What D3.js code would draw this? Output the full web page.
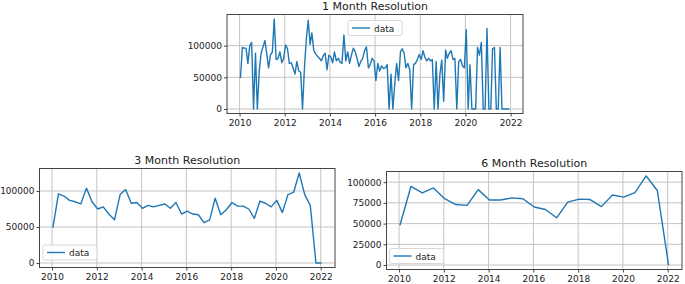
<!DOCTYPE html>
<html>
<head>
<meta charset="utf-8">
<script src="https://cdn.jsdelivr.net/npm/d3@7"></script>
<style>
  body { margin: 0; background: #fff; }
  text { font-family: "DejaVu Sans", sans-serif; }
</style>
</head>
<body>
<div id="wrapper"></div>
<script>
// values, one per period starting Jan 2010
const monthlyValues = [
    49000, 97000, 96000, 96000, 72000, 100000, 105000, 0, 88000, 0, 60000, 88000,
    98000, 108000, 88000, 65000, 85000, 90000, 142000, 78000, 80000, 90000, 73000, 80000,
    101000, 95000, 72000, 73000, 65000, 55000, 75000, 60000, 58000, 0, 65000, 110000,
    140000, 102000, 120000, 92000, 87000, 83000, 80000, 76000, 84000, 88000, 62000, 85000,
    82000, 73000, 90000, 76000, 80000, 74000, 72000, 117000, 76000, 90000, 72000, 85000,
    96000, 90000, 80000, 67000, 75000, 80000, 92000, 98000, 65000, 70000, 80000, 76000,
    45000, 72000, 60000, 68000, 64000, 65000, 70000, 0, 55000, 0, 40000, 72000,
    45000, 90000, 95000, 88000, 65000, 72000, 62000, 0, 70000, 72000, 78000, 86000,
    78000, 92000, 82000, 76000, 80000, 76000, 78000, 0, 75000, 0, 55000, 77000,
    12000, 93000, 80000, 88000, 92000, 78000, 80000, 0, 75000, 78000, 68000, 65000,
    125000, 0, 70000, 0, 0, 0, 97000, 85000, 105000, 0, 0, 127000,
    0, 0, 95000, 97000, 0, 0, 97000, 0, 0, 0, 0, 0
];
const quarterlyValues = [
    49000, 96000, 93000, 87000, 85000, 82000, 104000, 85000, 75000, 78000, 68000, 60000,
    95000, 102000, 83000, 84000, 76000, 80000, 78000, 80000, 82000, 76000, 84000, 68000,
    72000, 68000, 67000, 56000, 60000, 90000, 67000, 74000, 84000, 79000, 79000, 75000,
    62000, 86000, 83000, 78000, 87000, 70000, 95000, 98000, 125000, 95000, 80000, 0, 0
];
const halfYearValues = [
    48000, 95000, 87000, 93000, 80000, 73000, 72000, 91000, 78500, 78500, 81000, 80000,
    70000, 67000, 57000, 76000, 79500, 79000, 70500, 84500, 82000, 87500, 107500, 90000, 0
];
const xTickYears = [2010, 2012, 2014, 2016, 2018, 2020, 2022];
const yTicksSmall = [0, 50000, 100000];
const yTicksFine = [0, 25000, 50000, 75000, 100000];

const startDate = new Date(2010, 0, 15);

const svg = d3.select("#wrapper")
    .append("svg")
    .attr("width", 685)
    .attr("height", 284);

function drawPanel(opts) {
    // turn the value list into dated points
    const dataset = opts.values.map((v, i) => ({
        date: d3.timeMonth.offset(startDate, i * opts.step),
        value: v
    }));
    const xAccessor = d => d.date;
    const yAccessor = d => d.value;

    // matplotlib style 5% margins around the data
    const [x0, x1] = d3.extent(dataset, d => +xAccessor(d));
    const [y0, y1] = d3.extent(dataset, yAccessor);
    const xPad = (x1 - x0) * 0.05;
    const yPad = (y1 - y0) * 0.05;

    const xScale = d3.scaleTime()
        .domain([new Date(x0 - xPad), new Date(x1 + xPad)])
        .range([opts.left, opts.right]);
    const yScale = d3.scaleLinear()
        .domain([y0 - yPad, y1 + yPad])
        .range([opts.bottom, opts.top]);

    const g = svg.append("g");
    const tickDates = xTickYears.map(y => new Date(y, 0, 1));

    // grid
    g.append("g").selectAll("line")
        .data(tickDates)
        .enter().append("line")
        .attr("x1", d => xScale(d)).attr("x2", d => xScale(d))
        .attr("y1", opts.top).attr("y2", opts.bottom)
        .attr("stroke", "#c4c4c4").attr("stroke-width", 1);
    g.append("g").selectAll("line")
        .data(opts.yTicks)
        .enter().append("line")
        .attr("x1", opts.left).attr("x2", opts.right)
        .attr("y1", d => yScale(d)).attr("y2", d => yScale(d))
        .attr("stroke", "#c4c4c4").attr("stroke-width", 1);

    // the line
    const line = d3.line()
        .x(d => xScale(xAccessor(d)))
        .y(d => yScale(yAccessor(d)));
    g.append("path")
        .datum(dataset)
        .attr("d", line)
        .attr("fill", "none")
        .attr("stroke", "#1f77b4")
        .attr("stroke-width", 1.4)
        .attr("stroke-linejoin", "round");

    // frame
    g.append("rect")
        .attr("x", opts.left).attr("y", opts.top)
        .attr("width", opts.right - opts.left)
        .attr("height", opts.bottom - opts.top)
        .attr("fill", "none")
        .attr("stroke", "#444").attr("stroke-width", 1);

    // axes
    const xAxis = g.append("g")
        .attr("transform", `translate(0,${opts.bottom})`)
        .call(d3.axisBottom(xScale).tickValues(tickDates)
            .tickFormat(d3.timeFormat("%Y")).tickSize(3).tickPadding(3));
    const yAxis = g.append("g")
        .attr("transform", `translate(${opts.left},0)`)
        .call(d3.axisLeft(yScale).tickValues(opts.yTicks)
            .tickFormat(d3.format("d")).tickSize(3).tickPadding(2));
    [xAxis, yAxis].forEach(a => {
        a.select(".domain").remove();
        a.selectAll("line").attr("stroke", "#444");
        a.selectAll("text").attr("fill", "#222").style("font-size", "9px")
            .style("font-family", "DejaVu Sans, sans-serif");
    });

    // title
    g.append("text")
        .attr("x", (opts.left + opts.right) / 2)
        .attr("y", opts.top - 5)
        .attr("text-anchor", "middle")
        .attr("fill", "#222")
        .style("font-size", "11px")
        .text(opts.title);

    // legend
    const lg = g.append("g").attr("transform", `translate(${opts.legend[0]},${opts.legend[1]})`);
    lg.append("rect")
        .attr("width", 54).attr("height", 15).attr("rx", 2)
        .attr("fill", "#fff").attr("fill-opacity", 0.8)
        .attr("stroke", "#d8d8d8");
    lg.append("line")
        .attr("x1", 4).attr("x2", 22).attr("y1", 7.5).attr("y2", 7.5)
        .attr("stroke", "#1f77b4").attr("stroke-width", 1.4);
    lg.append("text")
        .attr("x", 26).attr("y", 11)
        .attr("fill", "#222")
        .style("font-size", "9px")
        .text("data");
}

drawPanel({
    values: monthlyValues, step: 1, title: "1 Month Resolution",
    left: 227, right: 523, top: 14.5, bottom: 113.5,
    yTicks: yTicksSmall, legend: [348, 20.5]
});
drawPanel({
    values: quarterlyValues, step: 3, title: "3 Month Resolution",
    left: 39.5, right: 335, top: 168.5, bottom: 267.5,
    yTicks: yTicksSmall, legend: [43, 245]
});
drawPanel({
    values: halfYearValues, step: 6, title: "6 Month Resolution",
    left: 386.5, right: 682, top: 171.5, bottom: 269.5,
    yTicks: yTicksFine, legend: [389.5, 248.5]
});
</script>
</body>
</html>
